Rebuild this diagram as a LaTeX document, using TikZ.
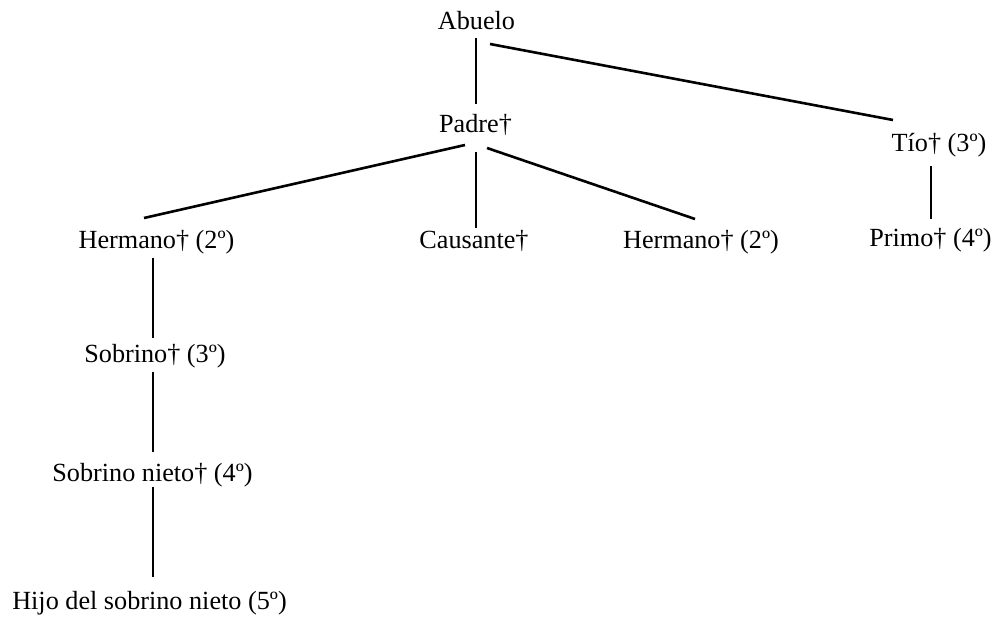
\documentclass[tikz,border=0pt]{standalone}
\usepackage{fontspec}
\setmainfont{Liberation Serif}
\usetikzlibrary{calc}
\tikzset{
  person/.style={anchor=base, inner sep=0pt, font=\fontsize{26.2}{31}\selectfont},
  link/.style={line width=2.6pt, line cap=butt}
}
\begin{document}
\begin{tikzpicture}[x=1pt, y=-1pt]
  \useasboundingbox (0,0) rectangle (996,617);

  % family members (placed by text baseline)
  \node[person] (abuelo)   at (476.5,29.5) {Abuelo};
  \node[person] (padre)    at (475.5,133) {Padre†};
  \node[person] (tio)      at (939,152) {Tío† (3º)};
  \node[person] (herm1)    at (156.5,248.5) {Hermano† (2º)};
  \node[person] (causante) at (474,248.5) {Causante†};
  \node[person] (herm2)    at (701,248.5) {Hermano† (2º)};
  \node[person] (primo)    at (930.5,247) {Primo† (4º)};
  \node[person] (sobrino)  at (155,362.5) {Sobrino† (3º)};
  \node[person] (nieto)    at (152.5,481.5) {Sobrino nieto† (4º)};
  \node[person] (hijo)     at (149.5,609.5) {Hijo del sobrino nieto (5º)};

  % kinship lines
  \draw[link] ($(abuelo.base)+(-0.5,8.5)$) -- ($(padre.base)+(0.5,-29)$);
  \draw[link] ($(abuelo.base)+(13.5,14.5)$) -- ($(tio.base)+(-46,-32)$);
  \draw[link] ($(padre.base)+(-10.5,12)$) -- ($(herm1.base)+(-12.5,-30.5)$);
  \draw[link] ($(padre.base)+(0.5,19)$) -- ($(causante.base)+(2,-20.5)$);
  \draw[link] ($(padre.base)+(11.5,15)$) -- ($(herm2.base)+(-6,-29.5)$);
  \draw[link] ($(tio.base)+(-8,14)$) -- ($(primo.base)+(0.5,-28)$);
  \draw[link] ($(herm1.base)+(-3.5,9.5)$) -- ($(sobrino.base)+(-2,-24.5)$);
  \draw[link] ($(sobrino.base)+(-2,9.5)$) -- ($(nieto.base)+(0.5,-29.5)$);
  \draw[link] ($(nieto.base)+(0.5,5.5)$) -- ($(hijo.base)+(3.5,-32.5)$);
\end{tikzpicture}
\end{document}
